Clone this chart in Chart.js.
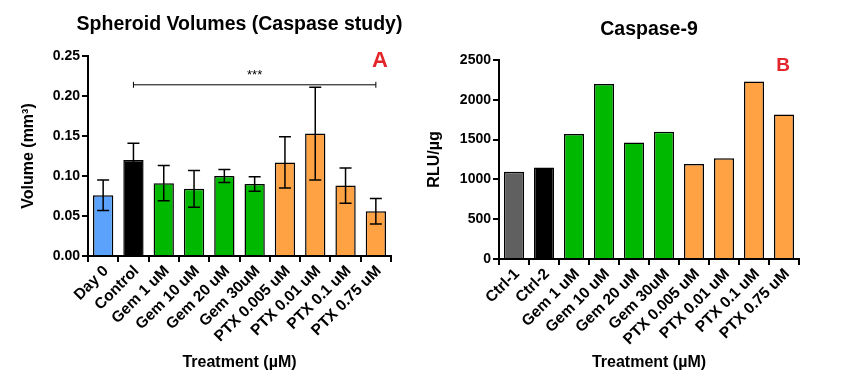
<!DOCTYPE html>
<html>
<head>
<meta charset="utf-8">
<script src="https://cdn.jsdelivr.net/npm/chart.js@4/dist/chart.umd.min.js"></script>
<style>
  body { margin: 0; background: #fff; }
  .wrap { position: absolute; top: 0; height: 382px; }
  #boxA { left: 0; width: 420px; }
  #boxB { left: 420px; width: 423px; }
</style>
</head>
<body>
<div class="wrap" id="boxA"><canvas id="chartA"></canvas></div>
<div class="wrap" id="boxB"><canvas id="chartB"></canvas></div>
<script>
var labelsA = ['Day 0', 'Control', 'Gem 1 uM', 'Gem 10 uM', 'Gem 20 uM', 'Gem 30uM', 'PTX 0.005 uM', 'PTX 0.01 uM', 'PTX 0.1 uM', 'PTX 0.75 uM'];
var volumes = [0.076, 0.120, 0.091, 0.084, 0.100, 0.090, 0.117, 0.153, 0.088, 0.056];
var volumeErr = [0.019, 0.021, 0.022, 0.023, 0.008, 0.009, 0.032, 0.058, 0.022, 0.016];
var colorsA = ['#5aa2fc', '#000000', '#00b800', '#00b800', '#00b800', '#00b800', '#ffa244', '#ffa244', '#ffa244', '#ffa244'];

var labelsB = ['Ctrl-1', 'Ctrl-2', 'Gem 1 uM', 'Gem 10 uM', 'Gem 20 uM', 'Gem 30uM', 'PTX 0.005 uM', 'PTX 0.01 uM', 'PTX 0.1 uM', 'PTX 0.75 uM'];
var caspase9 = [1095, 1150, 1570, 2200, 1465, 1600, 1195, 1265, 2230, 1815];
var colorsB = ['#606060', '#000000', '#00b800', '#00b800', '#00b800', '#00b800', '#ffa244', '#ffa244', '#ffa244', '#ffa244'];

var yTicksA = [0, 0.05, 0.10, 0.15, 0.20, 0.25];
var yTicksB = [0, 500, 1000, 1500, 2000, 2500];

Chart.defaults.font.family = "'Liberation Sans', Arial, sans-serif";
Chart.defaults.color = '#000';
Chart.defaults.animation = false;

// error bars (mean +/- sd)
var errorBars = {
  id: 'errorBars',
  afterDatasetsDraw: function(chart, args, opts) {
    if (!opts.err) return;
    var ctx = chart.ctx;
    var meta = chart.getDatasetMeta(0);
    var y = chart.scales.y;
    ctx.save();
    ctx.strokeStyle = '#000';
    ctx.lineWidth = 1.5;
    meta.data.forEach(function(bar, i) {
      var v = chart.data.datasets[0].data[i];
      var top = y.getPixelForValue(v + opts.err[i]);
      var low = y.getPixelForValue(v - opts.err[i]);
      ctx.beginPath();
      ctx.moveTo(bar.x, top); ctx.lineTo(bar.x, low);
      ctx.moveTo(bar.x - 6, top); ctx.lineTo(bar.x + 6, top);
      ctx.moveTo(bar.x - 6, low); ctx.lineTo(bar.x + 6, low);
      ctx.stroke();
    });
    ctx.restore();
  }
};

// title over the plot area, panel letter, significance bracket
var notes = {
  id: 'notes',
  afterDraw: function(chart, args, opts) {
    var ctx = chart.ctx;
    var area = chart.chartArea;
    ctx.save();
    ctx.textAlign = 'center';
    ctx.textBaseline = 'middle';
    ctx.fillStyle = '#000';
    ctx.font = 'bold 19.5px "Liberation Sans", Arial, sans-serif';
    ctx.fillText(opts.title, (area.left + area.right) / 2, opts.titleY);

    ctx.fillStyle = '#e3262b';
    ctx.font = 'bold ' + opts.letterSize + 'px "Liberation Sans", Arial, sans-serif';
    ctx.fillText(opts.letter, opts.letterX, opts.letterY);
    if (opts.sig) {
      var x = chart.scales.x, y = chart.scales.y;
      var x1 = x.getPixelForValue(opts.sig.from);
      var x2 = x.getPixelForValue(opts.sig.to);
      var yy = y.getPixelForValue(opts.sig.at);
      ctx.strokeStyle = '#000';
      ctx.lineWidth = 1;
      ctx.beginPath();
      ctx.moveTo(x1, yy - 3); ctx.lineTo(x1, yy + 3);
      ctx.moveTo(x1, yy); ctx.lineTo(x2, yy);
      ctx.moveTo(x2, yy - 3); ctx.lineTo(x2, yy + 3);
      ctx.stroke();
      ctx.fillStyle = '#000';
      ctx.font = '13px "Liberation Sans", Arial, sans-serif';
      ctx.fillText(opts.sig.text, (x1 + x2) / 2, yy - 9);
    }
    ctx.restore();
  }
};

function makeChart(id, labels, data, colors, ticks, cfg) {
  return new Chart(document.getElementById(id), {
    type: 'bar',
    data: {
      labels: labels,
      datasets: [{
        data: data,
        backgroundColor: colors,
        borderColor: '#000',
        borderWidth: 1.5,
        categoryPercentage: 1,
        barPercentage: 0.67
      }]
    },
    options: {
      responsive: true,
      maintainAspectRatio: false,
      layout: { padding: { left: 0, right: cfg.padRight, top: cfg.top, bottom: 0 } },
      plugins: {
        legend: { display: false },
        tooltip: { enabled: false },
        title: { display: false },
        errorBars: { err: cfg.err },
        notes: cfg.notes
      },
      scales: {
        x: {
          grid: { display: true, drawOnChartArea: false, drawTicks: true, tickLength: 6, color: '#000', lineWidth: 2 },
          border: { color: '#000', width: 2 },
          ticks: { minRotation: 45, maxRotation: 45, autoSkip: false, padding: 0, labelOffset: 3, font: { size: 15.5, weight: 'bold' } },
          title: { display: true, text: 'Treatment (\u00b5M)', font: { size: 16, weight: 'bold' }, padding: { top: 0, bottom: 10 } },
          afterFit: function(s) { s.height = 382 - cfg.bottom; }
        },
        y: {
          min: 0,
          max: ticks[ticks.length - 1],
          afterBuildTicks: function(s) { s.ticks = ticks.map(function(v) { return { value: v }; }); },
          grid: { display: true, drawOnChartArea: false, drawTicks: true, tickLength: 6, color: '#000', lineWidth: 2 },
          border: { color: '#000', width: 2 },
          ticks: {
            padding: 2,
            font: { size: 14, weight: 'bold' },
            callback: cfg.fmt
          },
          title: { display: true, text: cfg.yTitle, font: { size: 16, weight: 'bold' }, padding: { top: cfg.yTitleTop, bottom: 0 } },
          afterFit: function(s) { s.width = cfg.left; }
        }
      }
    },
    plugins: [errorBars, notes]
  });
}

makeChart('chartA', labelsA, volumes, colorsA, yTicksA, {
  top: 56, padRight: 29, left: 88, bottom: 256,
  yTitle: 'Volume (mm\u00b3)', yTitleTop: 19,
  fmt: function(v) { return v.toFixed(2); },
  err: volumeErr,
  notes: { title: 'Spheroid Volumes (Caspase study)', titleY: 25, letter: 'A', letterSize: 22, letterX: 380, letterY: 61, sig: { from: 1, to: 9, at: 0.214, text: '***' } }
});

makeChart('chartB', labelsB, caspase9, colorsB, yTicksB, {
  top: 60, padRight: 44, left: 79, bottom: 259,
  yTitle: 'RLU/\u00b5g', yTitleTop: 5,
  fmt: function(v) { return String(v); },
  err: null,
  notes: { title: 'Caspase-9', titleY: 30, letter: 'B', letterSize: 19, letterX: 363, letterY: 66 }
});
</script>
</body>
</html>
